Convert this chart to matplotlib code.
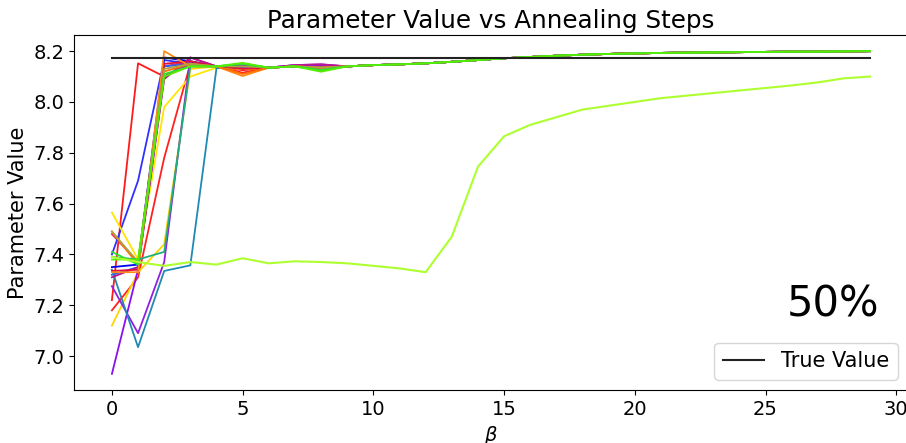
import numpy as np
from matplotlib import pyplot as plt

#%% Data

beta = np.arange(30)
true_value = 8.172

# common tail for beta = 9..29 (all converged runs)
tail = [8.140, 8.145, 8.148, 8.152, 8.158, 8.165, 8.172, 8.177, 8.182, 8.186, 8.189,
        8.191, 8.193, 8.194, 8.195, 8.196, 8.197, 8.198, 8.198, 8.199, 8.200]

# beta = 0..8 for each run
heads = {
    '#ff1a1a': [7.22, 8.152, 8.10, 8.15, 8.14, 8.115, 8.135, 8.14, 8.135],
    '#ff2020': [7.18, 7.31, 7.78, 8.15, 8.14, 8.125, 8.135, 8.14, 8.135],
    '#e8305a': [7.48, 7.37, 8.14, 8.16, 8.14, 8.14, 8.135, 8.14, 8.138],
    '#3030ff': [7.40, 7.69, 8.165, 8.15, 8.14, 8.14, 8.135, 8.14, 8.138],
    '#0000f0': [7.35, 7.36, 8.175, 8.16, 8.14, 8.14, 8.135, 8.142, 8.138],
    '#2060ff': [7.32, 7.35, 8.14, 8.15, 8.14, 8.14, 8.135, 8.14, 8.138],
    '#ffe600': [7.565, 7.38, 7.98, 8.10, 8.135, 8.13, 8.135, 8.14, 8.135],
    '#ffd500': [7.12, 7.33, 7.44, 8.13, 8.14, 8.13, 8.135, 8.14, 8.135],
    '#9020e0': [7.275, 7.09, 7.37, 8.175, 8.14, 8.14, 8.135, 8.145, 8.148],
    '#8a10f0': [6.93, 7.34, 8.10, 8.15, 8.14, 8.14, 8.135, 8.145, 8.145],
    '#1f8ab4': [7.34, 7.035, 7.335, 7.357, 8.133, 8.14, 8.135, 8.14, 8.138],
    '#c0148c': [7.31, 7.35, 8.09, 8.175, 8.14, 8.14, 8.135, 8.145, 8.148],
    '#e0103c': [7.335, 7.34, 8.15, 8.16, 8.14, 8.13, 8.135, 8.14, 8.135],
    '#ff8c1a': [7.33, 7.33, 8.20, 8.14, 8.14, 8.102, 8.135, 8.14, 8.135],
    '#ff7000': [7.49, 7.36, 8.12, 8.15, 8.14, 8.11, 8.135, 8.14, 8.135],
    '#b0a040': [7.49, 7.37, 8.13, 8.15, 8.14, 8.14, 8.135, 8.14, 8.135],
    '#20b080': [7.39, 7.38, 7.41, 8.14, 8.14, 8.15, 8.135, 8.14, 8.125],
    '#30e030': [7.41, 7.36, 8.11, 8.14, 8.14, 8.15, 8.135, 8.14, 8.125],
    '#55ee00': [7.38, 7.38, 8.10, 8.14, 8.14, 8.154, 8.135, 8.14, 8.119],
}

# the run that gets stuck
stuck = [7.39, 7.37, 7.355, 7.37, 7.36, 7.385, 7.365, 7.373, 7.37, 7.365,
         7.355, 7.345, 7.33, 7.47, 7.745, 7.865, 7.91, 7.94, 7.97, 7.985,
         8.0, 8.015, 8.025, 8.035, 8.045, 8.055, 8.065, 8.077, 8.093, 8.10]

#%% Plot

fig = plt.figure(figsize=(9.06, 4.43), dpi=100)
ax = fig.add_axes([74/906, 1-390/443, 834/906, 355/443])

for c, h in heads.items():
    ax.plot(beta, h + tail, color=c, lw=1.3)
ax.plot(beta, stuck, color='#adff2f', lw=1.5)
ax.plot(beta, np.full(len(beta), true_value), color='#222222', lw=1.5, label='True Value')

ax.set_title('Parameter Value vs Annealing Steps', fontsize=17.7, pad=5)
ax.set_xlabel(r'$\beta$', fontsize=14)
ax.set_ylabel('Parameter Value', fontsize=15)
ax.tick_params(labelsize=14)
ax.text(0.966, 0.206, '50%', transform=ax.transAxes, fontsize=30,
        ha='right', va='baseline')
ax.legend(loc='lower right', fontsize=15)

fig.savefig('out.png', dpi=100)
